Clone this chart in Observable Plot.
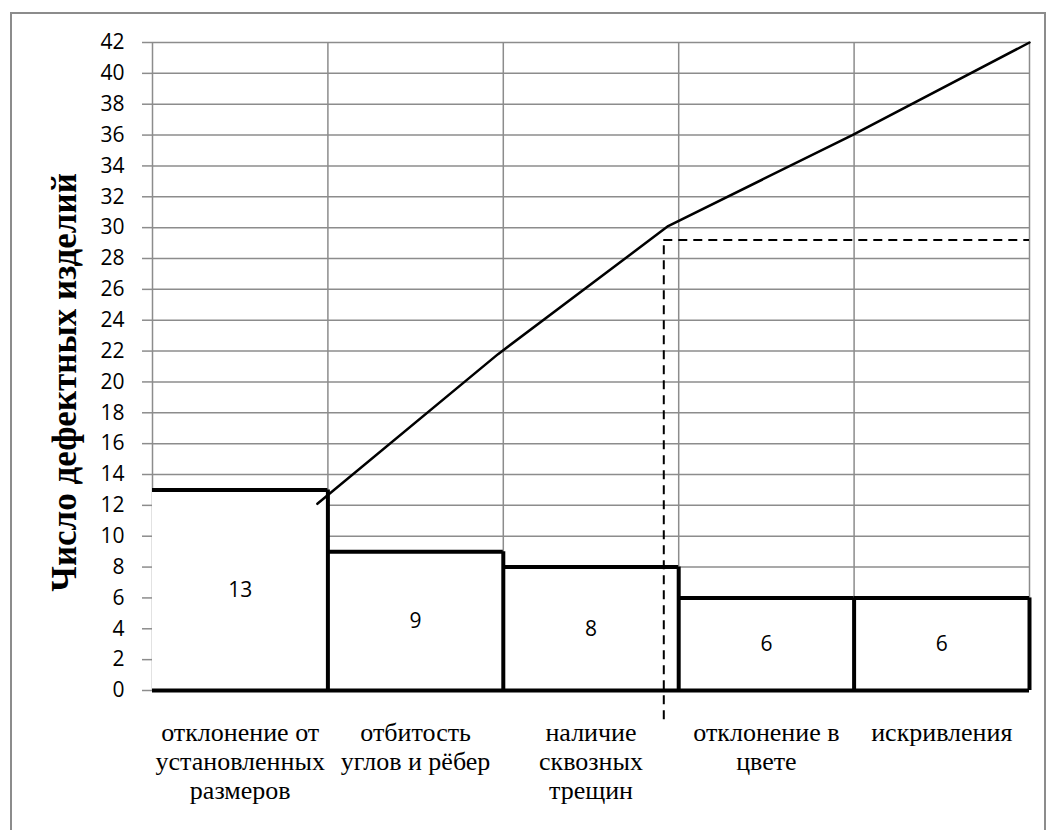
<!DOCTYPE html>
<html><head><meta charset="utf-8">
<script src="https://cdn.jsdelivr.net/npm/d3@7"></script>
<script src="https://cdn.jsdelivr.net/npm/@observablehq/plot@0.6"></script>
<style>
body{margin:0;background:#fff}
#wrap{position:relative;width:1047px;height:830px;overflow:hidden}
#frame{position:absolute;left:10px;top:12px;width:1036px;height:840px;border:2px solid #8c8c8c;box-sizing:border-box;pointer-events:none}
</style></head>
<body><div id="wrap"><div id="frame"></div></div>
<script>
const categories = ["отклонение от\nустановленных\nразмеров", "отбитость\nуглов и рёбер", "наличие\nсквозных\nтрещин", "отклонение в\nцвете", "искривления"];
const counts = [13, 9, 8, 6, 6];
const yTitle = ["Число дефектных изделий"];
// cumulative curve as drawn (position in category units, value)
const cumPos = [0.94, 1.97, 2.94, 3.99, 5];
const cumVal = [12.1, 21.8, 30.1, 36, 42];
// dashed guide lines
const guideX = [2.915];
const guideY = [29.2];
const guideBottom = [-1.9];
const yTicks = d3.range(0, 43, 2);

const bars = counts.map((v, i) => ({i, v, label: categories[i]}));
const cum = cumPos.map((p, i) => ({p, v: cumVal[i]}));
const titles = yTitle.map(t => ({t}));

const grid = "#8c8c8c";
const plot = Plot.plot({
  width: 1047, height: 830,
  marginLeft: 152, marginRight: 18, marginTop: 42, marginBottom: 140,
  x: {domain: [0, 5], axis: null},
  y: {domain: [0, 42], axis: null},
  style: {background: "transparent"},
  marks: [
    Plot.ruleY(yTicks, {x1: 0, x2: 5, stroke: grid, strokeWidth: 1.5}),
    Plot.ruleX([0, 1, 2, 3, 4, 5], {y1: 0, y2: 42, stroke: grid, strokeWidth: 1.5}),
    Plot.axisY({ticks: yTicks, tickSize: 10, tickPadding: 18, stroke: grid, strokeWidth: 1.5, fontSize: 21, fontFamily: "Open Sans", fill: "black", label: null}),
    Plot.rect(bars, {x1: d => d.i, x2: d => d.i + 1, y1: 0, y2: d => d.v, fill: "white"}),
    Plot.ruleY(bars, {x1: d => d.i, x2: d => d.i + 1, y: d => d.v, stroke: "black", strokeWidth: 4}),
    Plot.ruleX(bars, {x: d => d.i + 1, y1: 0, y2: d => d.v, stroke: "black", strokeWidth: 4}),
    Plot.ruleY([0], {x1: 0, x2: 5, stroke: "black", strokeWidth: 4}),
    Plot.text(bars, {x: d => d.i + 0.5, y: d => d.v / 2, text: d => String(d.v), fontSize: 21, fontFamily: "Open Sans", fill: "black"}),
    Plot.line(cum, {x: "p", y: "v", stroke: "black", strokeWidth: 2.5}),
    Plot.ruleX(guideX, {x: d => d, y1: guideBottom[0], y2: guideY[0], stroke: "black", strokeWidth: 2, strokeDasharray: "9,6"}),
    Plot.ruleY(guideY, {y: d => d, x1: guideX[0], x2: 5, stroke: "black", strokeWidth: 2, strokeDasharray: "9,6"}),
    Plot.text(bars, {x: d => d.i + 0.5, y: 0, text: "label", lineAnchor: "top", dy: 30, fontSize: 26, lineHeight: 1.12, fontFamily: "Liberation Serif", fill: "black"}),
    Plot.text(titles, {x: 0, y: 21, text: "t", rotate: -90, dx: -88, dy: 16, fontSize: 35, fontWeight: "bold", fontFamily: "Liberation Serif", fill: "black"})
  ]
});
// make sure the rotated title uses the serif face
const tg = plot.querySelectorAll('g[aria-label="text"]');
const titleG = tg[tg.length - 1];
titleG.setAttribute("font-family", "Liberation Serif");
titleG.style.fontFamily = "'Liberation Serif', serif";
titleG.style.fontWeight = "bold";
titleG.style.fontSize = "35px";
document.getElementById("wrap").prepend(plot);
</script>
</body></html>
